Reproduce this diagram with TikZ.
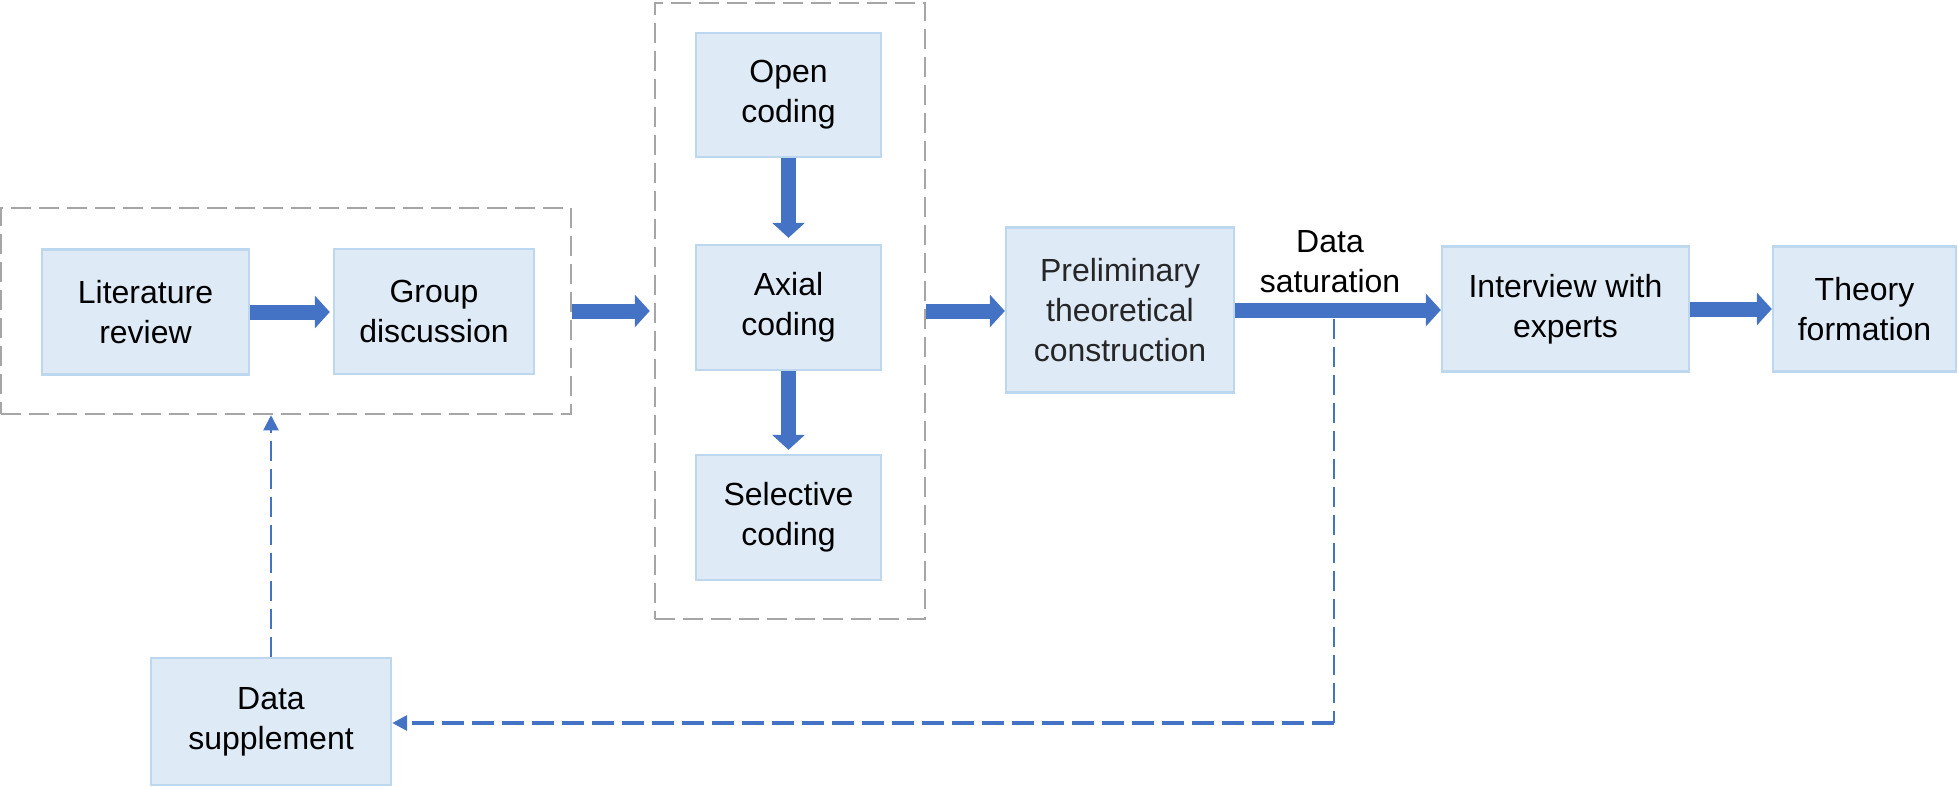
\documentclass[tikz,border=0pt]{standalone}
\usepackage{fontspec}
\setmainfont{Liberation Sans}
\usetikzlibrary{arrows.meta}
\definecolor{boxfill}{HTML}{DEEBF7}
\definecolor{boxline}{HTML}{BDD7EE}
\definecolor{flowblue}{HTML}{4472C4}
\definecolor{framegray}{HTML}{A6A6A6}
\begin{document}
\begin{tikzpicture}[x=0.5pt,y=-0.5pt,
  stepbox/.style={draw=boxline, fill=boxfill, line width=1.2pt, align=center, inner sep=0pt,
    font=\fontsize{16}{20}\selectfont},
  groupframe/.style={draw=framegray, line width=1.25pt, dash pattern=on 10pt off 4pt, inner sep=0pt},
  bigarrow/.style={draw=flowblue, line width=7.5pt, -{Triangle[width=16pt,length=7.5pt]}},
  fbline/.style={draw=flowblue, line width=1pt, dash pattern=on 10pt off 4pt},
  fbtip/.style={-{Triangle[width=7.5pt,length=7.5pt]}},
  lbl/.style={align=center, inner sep=0pt, font=\fontsize{16}{20}\selectfont}
]
\useasboundingbox (0,0) rectangle (1958,788);

% group frames
\node[groupframe, minimum width=285pt, minimum height=103pt] (leftgrp) at (286,311) {};
\node[groupframe, minimum width=135pt, minimum height=308pt] (midgrp) at (790,311) {};

% boxes
\node[stepbox, minimum width=103.5pt, minimum height=62.5pt] (lit) at (145.5,312) {Literature\\review};
\node[stepbox, minimum width=100pt, minimum height=62.5pt] (grp) at (434,311.5) {Group\\discussion};
\node[stepbox, minimum width=92.5pt, minimum height=62pt] (open) at (788.5,95) {Open\\coding};
\node[stepbox, minimum width=92.5pt, minimum height=62.5pt] (axial) at (788.5,307.5) {Axial\\coding};
\node[stepbox, minimum width=92.5pt, minimum height=62.5pt] (sel) at (788.5,517.5) {Selective\\coding};
\node[stepbox, minimum width=114pt, minimum height=82.5pt, text=black!85] (pre) at (1120,310) {Preliminary\\theoretical\\construction};
\node[stepbox, minimum width=123.5pt, minimum height=62.5pt] (int) at (1565.5,309) {Interview with\\experts};
\node[stepbox, minimum width=91.5pt, minimum height=62.5pt] (theo) at (1864.5,309) {Theory\\formation};
\node[stepbox, minimum width=120pt, minimum height=63.5pt] (sup) at (271,721.5) {Data\\supplement};

\node[lbl] (satlbl) at (1330,262) {Data\\saturation};

% main flow arrows
\draw[bigarrow, shorten >=1.5pt] (lit.east) -- (lit.east -| grp.west);
\draw[bigarrow, shorten >=2pt] (leftgrp.east) -- (leftgrp.east -| midgrp.west);
\draw[bigarrow, shorten >=3pt] (open.south) -- (open.south |- axial.north);
\draw[bigarrow, shorten >=2pt] (axial.south) -- (axial.south |- sel.north);
\draw[bigarrow] (midgrp.east) -- (midgrp.east -| pre.west);
\draw[bigarrow] (pre.east) -- (pre.east -| int.west);
\draw[bigarrow] (int.east) -- (int.east -| theo.west);

% feedback loop
\coordinate (satpt) at (1334,319);
\coordinate (turn) at (1334,723);
\draw[fbline] (satpt) -- (turn);
\draw[fbline, line width=1.7pt, dash pattern=on 11pt off 4pt, fbtip] (turn) -- (turn -| sup.east);
\draw[fbline, fbtip] (sup.north) -- (sup.north |- leftgrp.south);
\end{tikzpicture}
\end{document}
